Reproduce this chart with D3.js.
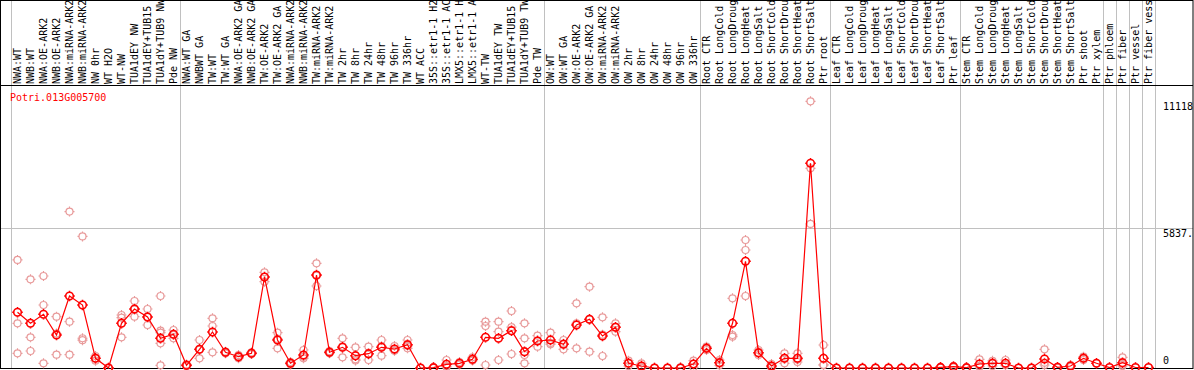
<!DOCTYPE html>
<html>
<head>
<meta charset="utf-8">
<script src="https://cdn.jsdelivr.net/npm/d3@7"></script>
<style>
  body { margin: 0; background: #fff; }
  svg { display: block; }
  text { font-family: "DejaVu Sans Mono", monospace; font-size: 10px; }
</style>
</head>
<body>
<script>
var labels = ["NWA:WT","NWB:WT","NWA:OE-ARK2","NWB:OE-ARK2","NWA:miRNA-ARK2","NWB:miRNA-ARK2","NW 0hr","WT H2O","WT-NW","TUA1dEY NW","TUA1dEY+TUB15","TUA1dY+TUB9 NW","Pde NW",
  "NWA:WT GA","NWBWT GA","TW:WT","TW:WT GA","NWA:OE-ARK2 GA","NWB:OE-ARK2 GA","TW:OE-ARK2","TW:OE-ARK2 GA","NWA:miRNA-ARK2","NWB:miRNA-ARK2","TW:miRNA-ARK2","TW:miRNA-ARK2",
  "TW 2hr","TW 8hr","TW 24hr","TW 48hr","TW 96hr","TW 336hr","WT ACC","35S::etr1-1 H2","35S::etr1-1 AC","LMX5::etr1-1 H","LMX5::etr1-1 A","WT-TW","TUA1dEY TW","TUA1dEY+TUB15","TUA1dY+TUB9 TW","Pde TW",
  "OW:WT","OW:WT GA","OW:OE-ARK2","OW:OE-ARK2 GA","OW:miRNA-ARK2","OW:miRNA-ARK2","OW 2hr","OW 8hr","OW 24hr","OW 48hr","OW 96hr","OW 336hr",
  "Root CTR","Root LongCold","Root LongDroug","Root LongHeat","Root LongSalt","Root ShortCold","Root ShortDrou","Root ShortHeat","Root ShortSalt","Ptr root",
  "Leaf CTR","Leaf LongCold","Leaf LongDroug","Leaf LongHeat","Leaf LongSalt","Leaf ShortCold","Leaf ShortDrou","Leaf ShortHeat","Leaf ShortSalt","Ptr leaf",
  "Stem CTR","Stem LongCold","Stem LongDroug","Stem LongHeat","Stem LongSalt","Stem ShortCold","Stem ShortDrou","Stem ShortHeat","Stem ShortSalt","Ptr shoot",
  "Ptr xylem","Ptr phloem","Ptr fiber","Ptr vessel","Ptr fiber vess"];

var means = [2323,1864,2239,1376,3002,2627,404,0,1864,2460,2127,1238,1405,
  113,780,1501,655,471,613,3795,1168,200,542,3878,655,
  863,513,596,863,792,972,0,15,154,196,363,1280,1238,1556,680,1126,
  1168,988,1793,2031,1334,1697,196,83,0,0,0,167,
  821,221,1864,4449,638,83,404,404,8536,404,
  0,0,0,0,0,0,0,0,25,55,
  15,167,196,196,0,0,375,29,83,404,
  196,20,221,20,20];

var reps = [[4504,1864,613],[3699,1280,709],[3836,2627,196],[2139,1434,555],[6520,1931,555],[5487,1240,1160],[500,400,304],[15,5,0],[2210,2100,1280],[2794,2447,2139],[2460,2128,1793],[3002,1556,1472,1030,113],[1584,1393,1238],
  [150,113,80],[1168,768,404],[2072,1751,655],[680,655,613],[538,471,404],[650,613,580],[3990,3795,3598],[1472,1211,821],[250,200,150],[751,471,404],[4366,3849,3419],[700,655,610],
  [1238,905,446],[863,363,313],[888,567,334],[1168,909,513],[917,738,722],[1168,926,821],[0,0,0],[30,15,0],[334,83,45],[250,196,142],[446,334,309],[1931,1751,125],[1931,1514,334],[2377,1707,584],[1864,1238,542,196],[1347,1143,888],
  [1472,1044,988],[1168,1016,780],[2698,1860,821],[3390,2023,680],[2114,1388,500],[1864,1713,1514],[304,200,83],[196,40,13],[10,0,0],[0,0,0],[30,0,0],[304,167,29],
  [888,821,751],[334,221,110],[2906,1376,1305],[5337,4920,3002],[751,621,542],[167,60,20],[613,404,196],[613,350,250],[11118,8327,6005],[959,130,125],
  [0,0,0],[0,0,0],[0,0,0],[0,0,0],[0,0,0],[0,0,0],[0,0,0],[0,0,0],[40,25,10],[80,55,30],
  [30,15,0],[363,83,55],[300,196,83],[334,125,130],[0,0,0],[0,0,0],[780,220,125],[40,29,18],[120,83,46],[471,404,334],
  [196],[20],[446,134,83],[20],[20]];

var groupBreaks = [0,13,41,53,63,73,84,85,86,87,88];
var yTicks = [0, 5837, 11118];
var yTickLabels = ["0", "5837.", "11118"];
var geneName = "Potri.013G005700";
var yMax = 11674;

var W = 1194, H = 370;
var svg = d3.select("body").append("svg")
  .attr("width", W)
  .attr("height", H);

var x = d3.scaleBand()
  .domain(d3.range(labels.length))
  .range([11, 1155]);

var y = d3.scaleLinear()
  .domain([0, yMax])
  .range([368, 88]);

// grid
svg.selectAll(".vgrid")
  .data(groupBreaks)
  .enter().append("line")
  .attr("x1", function(d) { return x(0) + d * x.bandwidth() + 0.5; })
  .attr("x2", function(d) { return x(0) + d * x.bandwidth() + 0.5; })
  .attr("y1", 0).attr("y2", 368)
  .style("stroke", "#c0c0c0");

svg.append("line")
  .attr("x1", 0).attr("x2", 1193)
  .attr("y1", Math.round(y(yTicks[1])) + 0.5).attr("y2", Math.round(y(yTicks[1])) + 0.5)
  .style("stroke", "#c0c0c0");

// frame
svg.append("rect")
  .attr("x", 0.5).attr("y", 0.5)
  .attr("width", 1192.5).attr("height", 368)
  .style("fill", "none").style("stroke", "#000");
svg.append("line")
  .attr("x1", 0).attr("x2", 1193)
  .attr("y1", 85.5).attr("y2", 85.5)
  .style("stroke", "#000");

// column labels
var header = svg.append("g");
header.selectAll("text")
  .data(labels)
  .enter().append("text")
  .attr("transform", function(d, i) {
    return "translate(" + (x(i) + x.bandwidth() / 2 + 3.5) + ",84) rotate(-90)";
  })
  .text(function(d) { return d; });

// y labels
svg.selectAll(".ylab")
  .data(yTicks)
  .enter().append("text")
  .attr("x", 1163)
  .attr("y", function(d, i) { return i == 0 ? y(d) - 4 : y(d) + 9; })
  .text(function(d, i) { return yTickLabels[i]; });

svg.append("text")
  .attr("x", 10).attr("y", 101)
  .style("fill", "#ff0000")
  .text(geneName);

function marker(r) {
  var p = d3.path();
  p.moveTo(r, 0);
  p.arc(0, 0, r, 0, 2 * Math.PI);
  p.moveTo(0, -r - 1.5); p.lineTo(0, -r);
  p.moveTo(0, r); p.lineTo(0, r + 1.5);
  p.moveTo(-r - 1.5, 0); p.lineTo(-r, 0);
  p.moveTo(r, 0); p.lineTo(r + 1.5, 0);
  return p.toString();
}

var cx = function(i) { return x(i) + x.bandwidth() / 2; };

// replicate points
var repPts = [];
reps.forEach(function(r, i) { r.forEach(function(v) { repPts.push({i: i, v: v}); }); });
svg.selectAll(".rep")
  .data(repPts)
  .enter().append("path")
  .attr("d", marker(3.5))
  .attr("transform", function(d) { return "translate(" + cx(d.i) + "," + y(d.v) + ")"; })
  .style("fill", "none")
  .style("stroke", "#e89a9a")
  .style("stroke-width", 1.2);

// mean line
var line = d3.line()
  .x(function(d, i) { return cx(i); })
  .y(function(d) { return y(d); });
svg.append("path")
  .datum(means)
  .attr("d", line)
  .style("fill", "none")
  .style("stroke", "#ff0000")
  .style("stroke-width", 1.2);

svg.selectAll(".mean")
  .data(means)
  .enter().append("path")
  .attr("d", marker(3.8))
  .attr("transform", function(d, i) { return "translate(" + cx(i) + "," + y(d) + ")"; })
  .style("fill", "none")
  .style("stroke", "#ff0000")
  .style("stroke-width", 1.6);
</script>
</body>
</html>
